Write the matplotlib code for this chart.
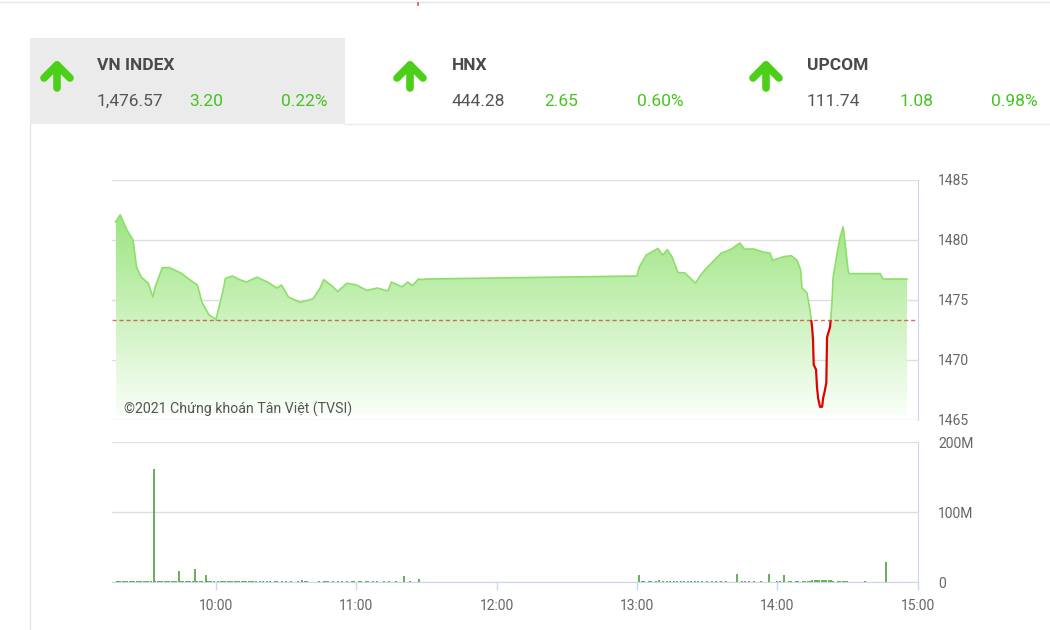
import numpy as np
import matplotlib
matplotlib.use("Agg")
from matplotlib import pyplot as plt
from matplotlib.patches import Rectangle
from matplotlib.colors import LinearSegmentedColormap

plt.rcParams['font.family'] = ['Roboto', 'DejaVu Sans']

# header values
idx_names = ['VN INDEX', 'HNX', 'UPCOM']
idx_values = ['1,476.57', '444.28', '111.74']
idx_changes = ['3.20', '2.65', '1.08']
idx_pcts = ['0.22%', '0.60%', '0.98%']

# VN-Index intraday, time in minutes after 9:00
price_t = [17, 19, 22, 24.5, 26, 28, 31, 33, 34, 37, 40, 45, 48, 52, 54, 57, 60, 61, 63, 64,
           67, 70, 73, 77.5, 82, 86, 88, 91, 96, 101.5, 104.5, 106, 110, 112, 116, 120, 124.5,
           129, 133.5, 135, 139.5, 142, 144, 146.5, 148, 150,
           240, 241, 244, 249, 251, 253, 255, 257.5, 260.5, 265, 267, 269, 272.5, 276, 280,
           284, 286, 290, 294, 297, 298, 302.5, 306, 308.5, 310, 310.6, 312.7, 314, 314.9,
           315.3, 315.6, 316.6, 317.0, 317.5, 318.3, 319.2, 319.6, 320.2, 321.0, 321.3, 322.6,
           323.4, 323.9, 325.6, 326.9, 328.2, 329.0, 330.3, 330.7, 344, 345.2, 355.5]
price_v = [1481.5, 1482.1, 1480.8, 1480.0, 1477.75, 1476.9, 1476.4, 1475.25, 1476.1, 1477.7,
           1477.7, 1477.25, 1476.8, 1476.25, 1474.8, 1473.75, 1473.4, 1474.2, 1475.8, 1476.8,
           1477.0, 1476.7, 1476.5, 1476.9, 1476.5, 1476.0, 1476.25, 1475.25, 1474.8, 1475.1,
           1476.0, 1476.7, 1476.1, 1475.7, 1476.4, 1476.25, 1475.8, 1476.0, 1475.75, 1476.5,
           1476.1, 1476.5, 1476.2, 1476.75, 1476.7, 1476.75,
           1477.0, 1477.75, 1478.75, 1479.3, 1478.75, 1479.2, 1478.6, 1477.3, 1477.25, 1476.4,
           1477.0, 1477.5, 1478.2, 1478.9, 1479.2, 1479.75, 1479.25, 1479.25, 1479.0, 1478.9,
           1478.3, 1478.6, 1478.7, 1478.3, 1477.5, 1476.0, 1475.6, 1474.2, 1472.75,
           1471.7, 1469.6, 1469.2, 1467.75, 1466.8, 1466.1, 1466.1, 1466.8, 1467.3, 1468.1,
           1471.9, 1472.75, 1474.75, 1476.9, 1478.9, 1480.25, 1481.1, 1479.8, 1477.5, 1477.2,
           1477.2, 1476.75, 1476.75]
ref_price = 1473.37

# volume bars (minute, million shares)
vol_bars = [
    (17.7, 2), (33.5, 162), (44.2, 16), (51, 18), (55.6, 10), (96.7, 3), (140.4, 9), (146.8, 5),
    (241, 10), (249.5, 3), (282.7, 12), (296.5, 12), (303, 10), (337.5, 1.5), (346.5, 29),
    (18, 1.5), (19, 1.5), (20, 1.5), (21, 1.5), (22, 1.5), (23, 1.5), (24, 1.5), (25, 1.5),
    (26, 1.5), (27, 1.5), (28, 1.5), (29, 1.5), (30, 1.5), (31, 1.5), (32, 1.5), (34, 1.5),
    (35, 1.5), (36, 1.5), (37, 1.5), (38, 1.5), (39, 1.5), (40, 1.5), (41, 1.5), (42, 1.5),
    (43, 1.5), (45, 1.5), (46, 1.5), (47, 1.5), (48, 1.5), (49, 1.5), (50, 1.5), (52, 1.5),
    (53, 1.5), (54, 1.5), (56, 1.5), (57, 1.5), (58, 1.5), (59, 1.5), (61, 1.5), (62, 1.5),
    (63, 1.5), (64, 1.5), (65, 1.5), (66, 1.5), (67, 1.5), (68, 1.5), (69, 1.5), (70, 1.5),
    (71, 1.5), (72, 1.5), (73, 1.5), (74, 1.5), (75, 1.5), (76, 1.5), (77, 1.5), (79, 1.5),
    (80, 1.5), (82, 1.5), (83, 1.5), (85, 1.5), (86, 1.5), (88, 1.5), (90, 1.5), (92, 1.5),
    (95, 1.5), (98, 1.5), (99, 1.5), (104, 1.5), (106, 1.5), (107, 1.5), (108, 1.5), (110, 1.5),
    (112, 1.5), (114, 1.5), (116, 1.5), (118, 1.5), (119, 1.5), (121, 1.5), (122, 1.5),
    (124, 1.5), (125, 1.5), (127, 1.5), (129, 1.5), (132, 1.5), (134, 1.5), (137, 1.5),
    (143, 1.5),
    (242, 1.5), (243, 1.5), (245, 1.5), (246, 1.5), (248, 1.5), (251, 1.5), (253, 1.5),
    (254, 1.5), (256, 1.5), (257, 1.5), (259, 1.5), (260, 1.5), (262, 1.5), (263, 1.5),
    (265, 1.5), (266, 1.5), (268, 1.5), (270, 1.5), (272, 1.5), (274, 1.5), (276, 1.5),
    (278, 1.5), (285, 1.5), (286, 1.5), (288, 1.5), (290, 1.5), (293, 1.5), (300, 1.5),
    (301, 1.5), (305, 1.5), (306, 1.5), (308, 1.5), (309, 1.5), (311, 1.5), (312, 1.5),
    (313, 1.5), (314, 1.5), (315, 2.5), (316, 3), (317, 3), (318, 3.5), (319, 3), (320, 3.5),
    (321, 3), (322, 3), (323, 2.5), (324, 2), (326, 1.5), (327, 1.5), (328, 1.5), (329, 1.5),
    (330, 1.5),
]
vol_t = [b[0] for b in vol_bars]
vol_v = [b[1] for b in vol_bars]

hour_ticks = [60, 120, 180, 240, 300, 360]
hour_labels = ['10:00', '11:00', '12:00', '13:00', '14:00', '15:00']
price_ticks = [1465, 1470, 1475, 1480, 1485]
vol_ticks = [0, 100, 200]
vol_labels = ['0', '100M', '200M']

GREEN_TXT = '#45c31e'
ARROW = '#4ccf17'
GRID = '#dedede'
FRAME = '#ccd6eb'
LABEL = '#666666'

fig = plt.figure(figsize=(10.5, 6.3), dpi=100)

# ---- header, drawn in pixel coordinates
hd = fig.add_axes([0, 0, 1, 1], zorder=-1)
hd.set_xlim(0, 1050)
hd.set_ylim(630, 0)
hd.axis('off')
hd.plot([0, 1050], [2, 2], color='#e4e4e4', lw=1)
hd.plot([418, 418], [3, 5], color='#e05050', lw=1.2)
hd.add_patch(Rectangle((30, 38), 315, 86, facecolor='#ebebeb', edgecolor='none'))
hd.plot([345, 1050], [124, 124], color='#ececec', lw=1)
hd.plot([30, 30], [124, 630], color='#e6e6e6', lw=1)

block_x = [57, 410, 766]
num_x = [97, 452, 807]
chg_x = [189, 544, 900]
pct_x = [328, 683, 1038]
for i in range(3):
    cx = block_x[i]
    hd.plot([cx - 13, cx, cx + 13], [78, 65, 78], color=ARROW, lw=5.5,
            solid_capstyle='round', solid_joinstyle='round')
    hd.plot([cx, cx], [65, 88], color=ARROW, lw=5.5, solid_capstyle='round')
    hd.text(num_x[i], 65, idx_names[i], fontsize=12.5, fontweight='bold', color='#4a4a4a',
            va='center', ha='left')
    hd.text(num_x[i], 101, idx_values[i], fontsize=12.5, color='#555555', va='center', ha='left')
    hd.text(chg_x[i], 101, idx_changes[i], fontsize=12.5, color=GREEN_TXT, va='center', ha='left')
    hd.text(pct_x[i], 101, idx_pcts[i], fontsize=12.5, color=GREEN_TXT, va='center', ha='right')

x0, x1 = 15.5, 360.2

# ---- price panel
ax = fig.add_axes([112 / 1050, 1 - 420 / 630, 806 / 1050, 240 / 630])
t = np.array(price_t)
p = np.array(price_v)
base = 1465.4
poly = ax.fill_between(t, p, base, facecolor='none', edgecolor='none')
cmap = LinearSegmentedColormap.from_list('g', [(0.98, 1.0, 0.975), (0.61, 0.895, 0.50)])
grad = np.linspace(0, 1, 256).reshape(-1, 1)
im = ax.imshow(grad, extent=[t.min(), t.max(), base, 1482.3], origin='lower', aspect='auto',
               cmap=cmap, zorder=1, interpolation='bilinear')
im.set_clip_path(poly.get_paths()[0], transform=ax.transData)

above = Rectangle((x0, ref_price), x1 - x0, 30, transform=ax.transData)
below = Rectangle((x0, ref_price - 30), x1 - x0, 30, transform=ax.transData)
ln_g, = ax.plot(t, p, color='#8ddf6a', lw=1.2, zorder=3)
ln_g.set_clip_path(above)
ln_r, = ax.plot(t, p, color='#e00000', lw=1.6, zorder=3)
ln_r.set_clip_path(below)
ax.axhline(ref_price, color='#c84030', lw=1, ls=(0, (3, 2)), alpha=0.75, zorder=4)

ax.set_xlim(x0, x1)
ax.set_ylim(1465, 1485)
ax.set_yticks(price_ticks)
ax.yaxis.tick_right()
ax.tick_params(axis='y', length=0, pad=14.5, labelsize=10, labelcolor=LABEL)
ax.set_xticks([])
ax.grid(axis='y', color=GRID, lw=1)
ax.set_axisbelow(True)
for s in ['top', 'bottom', 'left']:
    ax.spines[s].set_visible(False)
ax.spines['right'].set_color(FRAME)
ax.text(0.015, 0.045, '©2021 Chứng khoán Tân Việt (TVSI)', transform=ax.transAxes,
        fontsize=10.2, color='#555555', va='center', ha='left', zorder=5)

# ---- volume panel
av = fig.add_axes([112 / 1050, 1 - 582 / 630, 806 / 1050, 140 / 630])
av.vlines(vol_t, 0, vol_v, color='#3e9a2c', lw=1.1, zorder=3)
av.set_xlim(x0, x1)
av.set_ylim(0, 200)
av.set_yticks(vol_ticks)
av.set_yticklabels(vol_labels)
av.yaxis.tick_right()
av.tick_params(axis='y', length=0, pad=14.5, labelsize=10, labelcolor=LABEL)
av.set_xticks(hour_ticks)
av.set_xticklabels(hour_labels)
av.tick_params(axis='x', length=6, color=FRAME, width=1, pad=6, labelsize=10, labelcolor=LABEL)
av.grid(axis='y', color=GRID, lw=1)
av.set_axisbelow(True)
for s in ['top', 'left']:
    av.spines[s].set_visible(False)
av.spines['right'].set_color(FRAME)
av.spines['bottom'].set_color(FRAME)

fig.savefig('out.png', dpi=100, facecolor='white')
